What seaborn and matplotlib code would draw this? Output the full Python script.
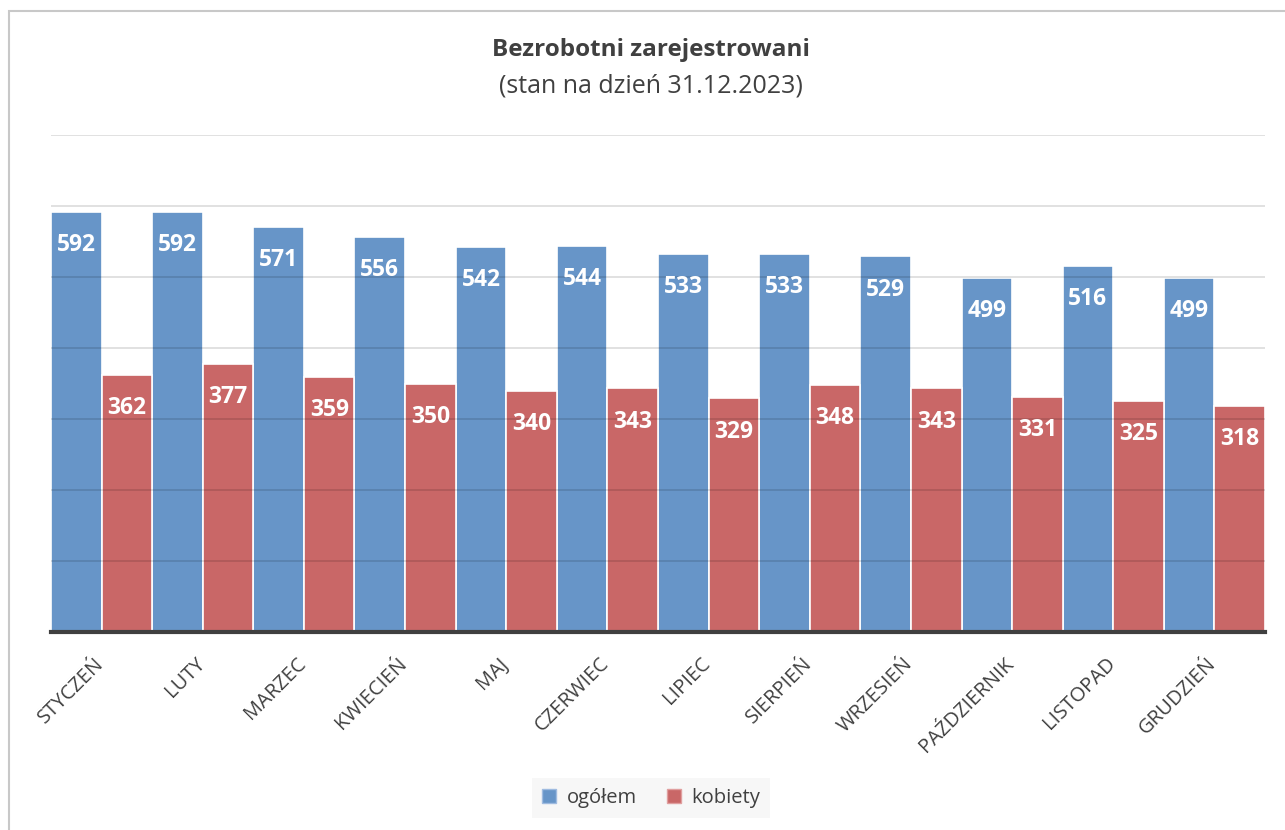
import matplotlib
matplotlib.use("Agg")
import matplotlib.pyplot as plt
import matplotlib.transforms as mtransforms
import seaborn as sns
import pandas as pd
from matplotlib.patches import Rectangle

months = ["STYCZEŃ", "LUTY", "MARZEC", "KWIECIEŃ", "MAJ", "CZERWIEC", "LIPIEC",
          "SIERPIEŃ", "WRZESIEŃ", "PAŹDZIERNIK", "LISTOPAD", "GRUDZIEŃ"]
ogolem = [592, 592, 571, 556, 542, 544, 533, 533, 529, 499, 516, 499]
kobiety = [362, 377, 359, 350, 340, 343, 329, 348, 343, 331, 325, 318]
series = ["ogółem", "kobiety"]
colors = ["#6795C8", "#C96767"]

df = pd.DataFrame({
    "miesiac": months * 2,
    "wartosc": ogolem + kobiety,
    "seria": [series[0]] * len(months) + [series[1]] * len(months),
})

sns.set_theme(style="white")
plt.rcParams["font.family"] = ["Open Sans", "DejaVu Sans"]

fig = plt.figure(figsize=(12.85, 8.3), dpi=100)
ax = fig.add_axes([51 / 1285, 1 - 632 / 830, (1265 - 51) / 1285, (632 - 135) / 830])

sns.barplot(data=df, x="miesiac", y="wartosc", hue="seria", order=months,
            hue_order=series, palette=colors, width=1.0, gap=0.0,
            edgecolor="white", linewidth=1.2, ax=ax, saturation=1)

ax.set_ylim(0, 700)
ax.set_xlim(-0.5, 11.5)
ax.set_yticks(range(0, 701, 100))
ax.set_yticklabels([])
ax.tick_params(axis="y", length=0)
ax.tick_params(axis="x", length=0, pad=4)
ax.grid(False)
for s in ["top", "right", "left"]:
    ax.spines[s].set_visible(False)
ax.spines["bottom"].set_color("#404040")
ax.spines["bottom"].set_linewidth(3)
ax.spines["bottom"].set_zorder(8)
ax.set_xlabel("")
ax.set_ylabel("")

# gridlines drawn over bars (semi-transparent, as in the reference)
for yv in range(100, 701, 100):
    ax.axhline(yv, color="black", alpha=0.13, linewidth=1.3, zorder=6)

for c in ax.containers:
    for p in c.patches:
        p.set_zorder(5)
    ax.bar_label(c, labels=[f"{v:.0f}" for v in c.datavalues], padding=-32.5,
                 color="white", fontsize=16.5, fontweight="bold", zorder=7)

ax.set_xticks(range(len(months)))
ax.set_xticklabels(months, rotation=45, ha="right", va="top",
                   rotation_mode="anchor", fontsize=14.5, color="#404040")
offset = mtransforms.ScaledTranslation(-8 / 100, -16 / 100, fig.dpi_scale_trans)
for lbl in ax.get_xticklabels():
    lbl.set_transform(lbl.get_transform() + offset)

leg = ax.get_legend()
if leg is not None:
    leg.remove()
handles = [Rectangle((0, 0), 1, 1, facecolor=colors[0], edgecolor="#9fbbe0"),
           Rectangle((0, 0), 1, 1, facecolor=colors[1], edgecolor="#e09f9f")]
fig.legend(handles, series, loc="center", bbox_to_anchor=(651 / 1285, 1 - 798 / 830),
           ncol=2, frameon=True, facecolor="#f7f7f7", edgecolor="none", framealpha=1,
           fontsize=14.5, handlelength=0.7, handleheight=0.7, handletextpad=0.5,
           columnspacing=1.5, borderpad=0.5, labelcolor="#404040", fancybox=False)

fig.text(651 / 1285, 1 - 50 / 830, "Bezrobotni zarejestrowani", ha="center", va="center",
         fontsize=17.5, fontweight="bold", color="#404040")
fig.text(651 / 1285, 1 - 86 / 830, "(stan na dzień 31.12.2023)", ha="center", va="center",
         fontsize=18, color="#404040")

fig.patches.append(Rectangle((9 / 1285, -0.05), 1.2, 1 - 11 / 830 + 0.05,
                             transform=fig.transFigure, fill=False,
                             edgecolor="#c8c8c8", linewidth=1.5))

fig.savefig("out.png", dpi=100)
